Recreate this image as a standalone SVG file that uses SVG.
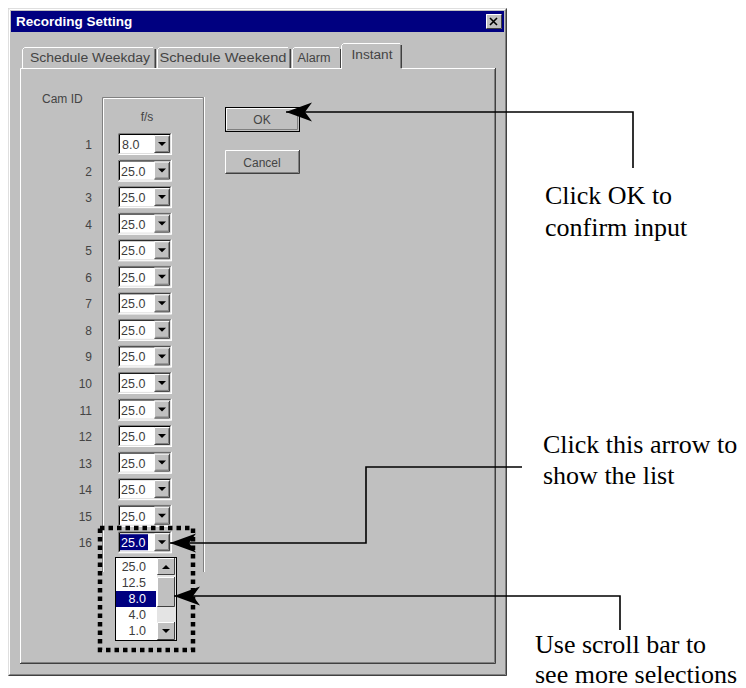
<svg xmlns="http://www.w3.org/2000/svg" xmlns:xlink="http://www.w3.org/1999/xlink" width="746" height="688" viewBox="0 0 746 688">
<style>
.ui{font-family:"Liberation Sans","DejaVu Sans",sans-serif;font-size:12px;fill:#444444}
.num{font-family:"Liberation Sans","DejaVu Sans",sans-serif;font-size:12px;fill:#444444;text-anchor:end}
.val{font-family:"Liberation Sans","DejaVu Sans",sans-serif;font-size:12.5px;fill:#3c3c3c}
.note{font-family:"Liberation Serif","Times New Roman",serif;font-size:26px;fill:#000}
.wl{stroke:#ffffff;fill:none}
.dl{stroke:#808080;fill:none}
.bl{stroke:#404040;fill:none}
.conn{stroke:#000;stroke-width:1.6;fill:none;marker-end:url(#ah)}
</style>
<defs>
<marker id="ah" markerUnits="userSpaceOnUse" viewBox="-28 -11 30 22" refX="0" refY="0" markerWidth="30" markerHeight="22" orient="auto">
<path d="M0,0 L-26,-9.5 L-19,0 L-26,9.5 Z" fill="#000"/>
</marker>
<g id="cb">
<rect x="118" y="-11" width="54" height="22" fill="#fff"/>
<path class="dl" d="M118.5,10.5 V-10.5 H171.5"/>
<path d="M119.5,9.5 V-9.5 H170.5" stroke="#000" fill="none"/>
<path class="wl" d="M118.5,10.5 H171.5 V-10.5"/>
<path d="M119.5,9.5 H170.5 V-9.5" stroke="#dfdfdf" fill="none"/>
<rect x="154" y="-9" width="16" height="18" fill="#c0c0c0"/>
<path class="wl" d="M154.5,8.5 V-8.5 H169.5"/>
<path class="bl" d="M154.5,8.5 H169.5 V-8.5"/>
<path class="dl" d="M155.5,7.5 H168.5 V-7.5"/>
<path d="M158,-2 H166 L162,2 Z" fill="#000"/>
</g>
</defs>

<g id="dialog">
<rect x="8" y="8" width="499" height="668" fill="#c0c0c0"/>
<path d="M8.5,675.5 V8.5 H506.5" stroke="#dfdfdf" fill="none"/>
<path class="wl" d="M9.5,674.5 V9.5 H505.5"/>
<path class="bl" d="M8.5,675.5 H506.5 V8.5"/>
<path class="dl" d="M9.5,674.5 H505.5 V9.5"/>
<rect x="11" y="11" width="493" height="21" fill="#000080"/>
<text x="16" y="26" font-family="Liberation Sans, DejaVu Sans, sans-serif" font-size="13.5" font-weight="bold" fill="#fff">Recording Setting</text>
<rect x="486" y="14" width="16" height="15" fill="#c0c0c0"/>
<path class="wl" d="M486.5,28.5 V14.5 H501.5"/>
<path class="bl" d="M486.5,28.5 H501.5 V14.5"/>
<path d="M490,18 L497,25 M497,18 L490,25" stroke="#000" stroke-width="1.6"/>
</g>

<g id="tabs">
<path class="wl" d="M22.5,68 V49.5 L24.5,47.5 H153"/>
<path class="dl" d="M154.5,49 V68"/>
<path class="bl" d="M155.5,49 V68"/>
<text class="ui" x="90" y="62" text-anchor="middle" textLength="120" lengthAdjust="spacingAndGlyphs">Schedule Weekday</text>
<path class="wl" d="M157.5,68 V49.5 L159.5,47.5 H288"/>
<path class="dl" d="M289.5,49 V68"/>
<path class="bl" d="M290.5,49 V68"/>
<text class="ui" x="223" y="62" text-anchor="middle" textLength="127" lengthAdjust="spacingAndGlyphs">Schedule Weekend</text>
<path class="wl" d="M292.5,68 V49.5 L294.5,47.5 H339"/>
<path class="bl" d="M340.5,49 V68"/>
<text class="ui" x="314" y="62" text-anchor="middle" textLength="33" lengthAdjust="spacingAndGlyphs">Alarm</text>
<path class="wl" d="M341.5,69 V45.5 L343.5,43.5 H400"/>
<path class="dl" d="M400.5,45 V68"/>
<path class="bl" d="M401.5,45 V68"/>
<text class="ui" x="372" y="59" text-anchor="middle" textLength="41" lengthAdjust="spacingAndGlyphs">Instant</text>
</g>

<g id="panel">
<path class="wl" d="M20.5,663 V68.5 H341.5 M402,68.5 H495"/>
<path class="dl" d="M21,662.5 H494.5 V69"/>
<path class="bl" d="M20,663.5 H495.5 V68"/>
<text class="ui" x="42" y="103">Cam ID</text>
<path class="dl" d="M102.5,572 V97.5 H203.5 V572"/>
<path class="wl" d="M103.5,572 V98.5 H202.5 M204.5,97 V572"/>
<text class="ui" x="147" y="121" text-anchor="middle">f/s</text>
</g>

<g id="btn-ok">
<rect x="225" y="107" width="75" height="25" fill="#c0c0c0"/>
<rect x="225.5" y="107.5" width="74" height="24" fill="none" stroke="#000"/>
<path class="wl" d="M226.5,130 V108.5 H298"/>
<path class="dl" d="M227,129.5 H297.5 V109"/>
<text class="ui" x="262" y="124" text-anchor="middle">OK</text>
</g>
<g id="btn-cancel">
<rect x="225" y="150" width="75" height="24" fill="#c0c0c0"/>
<path class="wl" d="M225.5,173 V150.5 H299"/>
<path class="bl" d="M225.5,173.5 H299.5 V150"/>
<path class="dl" d="M226,172.5 H298.5 V151"/>
<text class="ui" x="262" y="167" text-anchor="middle">Cancel</text>
</g>

<g id="rows">
<g transform="translate(0,144)"><text class="num" x="92" y="5">1</text><use xlink:href="#cb"/><text class="val" x="122" y="5">8.0</text></g>
<g transform="translate(0,170.5)"><text class="num" x="92" y="5">2</text><use xlink:href="#cb"/><text class="val" x="121" y="5">25.0</text></g>
<g transform="translate(0,197.1)"><text class="num" x="92" y="5">3</text><use xlink:href="#cb"/><text class="val" x="121" y="5">25.0</text></g>
<g transform="translate(0,223.6)"><text class="num" x="92" y="5">4</text><use xlink:href="#cb"/><text class="val" x="121" y="5">25.0</text></g>
<g transform="translate(0,250.2)"><text class="num" x="92" y="5">5</text><use xlink:href="#cb"/><text class="val" x="121" y="5">25.0</text></g>
<g transform="translate(0,276.7)"><text class="num" x="92" y="5">6</text><use xlink:href="#cb"/><text class="val" x="121" y="5">25.0</text></g>
<g transform="translate(0,303.3)"><text class="num" x="92" y="5">7</text><use xlink:href="#cb"/><text class="val" x="121" y="5">25.0</text></g>
<g transform="translate(0,329.8)"><text class="num" x="92" y="5">8</text><use xlink:href="#cb"/><text class="val" x="121" y="5">25.0</text></g>
<g transform="translate(0,356.4)"><text class="num" x="92" y="5">9</text><use xlink:href="#cb"/><text class="val" x="121" y="5">25.0</text></g>
<g transform="translate(0,382.9)"><text class="num" x="92" y="5">10</text><use xlink:href="#cb"/><text class="val" x="121" y="5">25.0</text></g>
<g transform="translate(0,409.5)"><text class="num" x="92" y="5">11</text><use xlink:href="#cb"/><text class="val" x="121" y="5">25.0</text></g>
<g transform="translate(0,436)"><text class="num" x="92" y="5">12</text><use xlink:href="#cb"/><text class="val" x="121" y="5">25.0</text></g>
<g transform="translate(0,462.6)"><text class="num" x="92" y="5">13</text><use xlink:href="#cb"/><text class="val" x="121" y="5">25.0</text></g>
<g transform="translate(0,489.1)"><text class="num" x="92" y="5">14</text><use xlink:href="#cb"/><text class="val" x="121" y="5">25.0</text></g>
<g transform="translate(0,515.7)"><text class="num" x="92" y="5">15</text><use xlink:href="#cb"/><text class="val" x="121" y="5">25.0</text></g>
<g transform="translate(0,542.2)"><text class="num" x="92" y="5">16</text><use xlink:href="#cb"/><rect x="120" y="-8" width="28" height="16" fill="#000080"/><text class="val" x="121" y="5" style="fill:#fff">25.0</text></g>
</g>

<g id="dropdown-list">
<rect x="115.5" y="557.5" width="61" height="83" fill="#fff" stroke="#000"/>
<rect x="116" y="591" width="40" height="16" fill="#000080"/>
<text class="val" x="146" y="571" text-anchor="end">25.0</text>
<text class="val" x="146" y="587" text-anchor="end">12.5</text>
<text class="val" x="146" y="603" text-anchor="end" style="fill:#fff">8.0</text>
<text class="val" x="146" y="619" text-anchor="end">4.0</text>
<text class="val" x="146" y="635" text-anchor="end">1.0</text>
<rect x="157" y="558" width="19" height="82" fill="#e4e4e4"/>
<rect x="157" y="558" width="18" height="17" fill="#c0c0c0"/>
<path class="wl" d="M157.5,574 V558.5 H174"/>
<path class="bl" d="M157.5,574.5 H174.5 V558"/>
<path d="M162,569 H170 L166,565 Z" fill="#000"/>
<rect x="157" y="577" width="18" height="30" fill="#c0c0c0"/>
<path class="wl" d="M157.5,606 V577.5 H174"/>
<path class="bl" d="M157.5,606.5 H174.5 V577"/>
<rect x="157" y="622" width="18" height="18" fill="#c0c0c0"/>
<path class="wl" d="M157.5,639 V622.5 H174"/>
<path class="bl" d="M157.5,639.5 H174.5 V622"/>
<path d="M162,629 H170 L166,633 Z" fill="#000"/>
</g>

<g id="highlight">
<rect x="100" y="528" width="93" height="122" fill="none" stroke="#000" stroke-width="4.5" stroke-dasharray="4.5 4"/>
</g>

<g id="connectors">
<path class="conn" d="M633,168 V112 H286"/>
<path class="conn" d="M522,467 H366 V543 H170"/>
<path class="conn" d="M620,630 V596 H174"/>
</g>

<g id="note-ok">
<text class="note" x="545" y="204">Click OK to</text>
<text class="note" x="545" y="236">confirm input</text>
</g>
<g id="note-arrow">
<text class="note" x="543" y="453">Click this arrow to</text>
<text class="note" x="543" y="484">show the list</text>
</g>
<g id="note-scroll">
<text class="note" x="535" y="653">Use scroll bar to</text>
<text class="note" x="535" y="683">see more selections</text>
</g>
</svg>
